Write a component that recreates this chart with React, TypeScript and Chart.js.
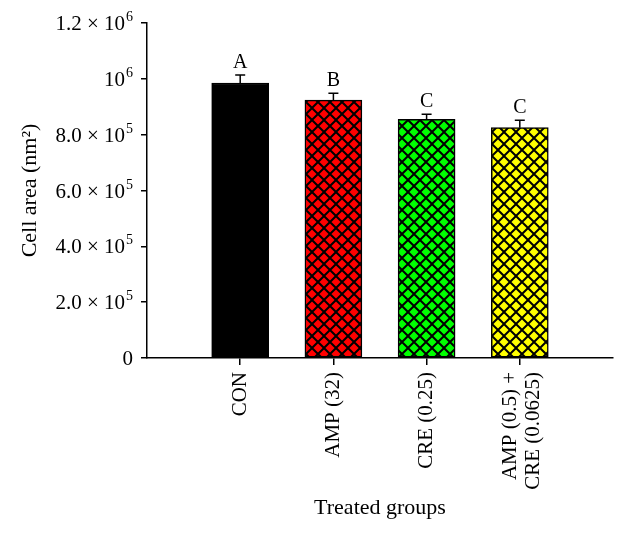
import React, { useEffect, useRef } from "react";
import { Chart, registerables } from "chart.js";

Chart.register(...registerables);

const categories: (string | string[])[] = ["CON", "AMP (32)", "CRE (0.25)", ["AMP (0.5) +", "CRE (0.0625)"]];
const cellArea = [985000, 924000, 855000, 825000];
const errors = [29000, 24000, 18000, 27000];
const letters = ["A", "B", "C", "C"];
const fillColors = ["#000000", "#ff0000", "#00ff00", "#ffff00"];
const hatched = [false, true, true, true];
const yTickLabels = ["0", "2.0 × 10⁵", "4.0 × 10⁵", "6.0 × 10⁵", "8.0 × 10⁵", "10⁶", "1.2 × 10⁶"];

const FONT = "'Liberation Serif', 'Times New Roman', serif";
const SUP: Record<string, string> = { "⁰": "0", "¹": "1", "²": "2", "³": "3", "⁴": "4", "⁵": "5", "⁶": "6", "⁷": "7", "⁸": "8", "⁹": "9" };

function makePattern(bg: string): CanvasPattern | string {
  const s = 12;
  const c = document.createElement("canvas");
  c.width = s;
  c.height = s;
  const g = c.getContext("2d");
  if (!g) return bg;
  g.fillStyle = bg;
  g.fillRect(0, 0, s, s);
  g.strokeStyle = "#000";
  g.lineWidth = 2;
  for (const k of [-s, 0, s]) {
    g.beginPath();
    g.moveTo(k, 0);
    g.lineTo(k + s, s);
    g.moveTo(k + s, 0);
    g.lineTo(k, s);
    g.stroke();
  }
  const p = g.createPattern(c, "repeat");
  return p || bg;
}

export default function App() {
  const ref = useRef<HTMLCanvasElement>(null);
  useEffect(() => {
    if (!ref.current) return;
    const labels = ["", ...categories, ""];
    const data = [null, ...cellArea, null];
    const bg = [
      "transparent",
      ...fillColors.map((c, i) => (hatched[i] ? makePattern(c) : c)),
      "transparent",
    ];

    const errPlugin = {
      id: "errbars",
      afterDatasetsDraw(chart: any) {
        const ctx = chart.ctx;
        const meta = chart.getDatasetMeta(0);
        const ys = chart.scales.y;
        ctx.save();
        ctx.strokeStyle = "#000";
        ctx.fillStyle = "#000";
        ctx.lineWidth = 1.5;
        cellArea.forEach((v, i) => {
          const el = meta.data[i + 1];
          if (!el) return;
          const x = el.x;
          const yb = ys.getPixelForValue(v);
          const yt = ys.getPixelForValue(v + errors[i]);
          ctx.beginPath();
          ctx.moveTo(x, yb);
          ctx.lineTo(x, yt);
          ctx.moveTo(x - 5, yt);
          ctx.lineTo(x + 5, yt);
          ctx.stroke();
          ctx.font = `20px ${FONT}`;
          ctx.textAlign = "center";
          ctx.textBaseline = "alphabetic";
          ctx.fillText(letters[i], x, yt - 7);
        });
        ctx.restore();
      },
      afterDraw(chart: any) {
        const ctx = chart.ctx;
        const ys = chart.scales.y;
        const xs = chart.scales.x;
        const right = ys.right - 6 - 8;
        ctx.save();
        ctx.fillStyle = "#000";
        ctx.textBaseline = "alphabetic";
        ctx.textAlign = "left";
        ys.ticks.forEach((t: any, i: number) => {
          const lbl = yTickLabels[i];
          if (lbl === undefined) return;
          const y = ys.getPixelForValue(t.value) + 7;
          const last = lbl.charAt(lbl.length - 1);
          let base = lbl;
          let sup = "";
          if (SUP[last] !== undefined) {
            base = lbl.slice(0, -1);
            sup = SUP[last];
          }
          ctx.font = `21px ${FONT}`;
          const wb = ctx.measureText(base).width;
          ctx.font = `14px ${FONT}`;
          const ws = sup ? ctx.measureText(sup).width + 1 : 0;
          const x0 = right - wb - ws;
          ctx.font = `21px ${FONT}`;
          ctx.fillText(base, x0, y);
          if (sup) {
            ctx.font = `14px ${FONT}`;
            ctx.fillText(sup, x0 + wb + 1, y - 9);
          }
        });
        // x category labels, rotated
        ctx.font = `21px ${FONT}`;
        ctx.textAlign = "right";
        ctx.textBaseline = "middle";
        const lineH = 23;
        categories.forEach((c, i) => {
          const lines = Array.isArray(c) ? c : [c];
          const x = xs.getPixelForValue(i + 1);
          const yTop = xs.top + 7 + 7;
          ctx.save();
          ctx.translate(x, yTop);
          ctx.rotate(-Math.PI / 2);
          lines.forEach((ln, j) => {
            const dy = (j - (lines.length - 1) / 2) * lineH + (lines.length > 1 ? 2 : 0);
            ctx.fillText(ln, 0, dy);
          });
          ctx.restore();
        });
        ctx.restore();
      },
    };

    const chart = new Chart(ref.current, {
      type: "bar",
      data: {
        labels,
        datasets: [
          {
            data,
            backgroundColor: bg as any,
            borderColor: "#000",
            borderWidth: 1.5,
            borderSkipped: false,
            barThickness: 57,
          },
        ],
      },
      options: {
        responsive: true,
        maintainAspectRatio: false,
        animation: false,
        layout: { padding: { left: 0, right: 14, top: 23, bottom: 0 } },
        plugins: { legend: { display: false }, tooltip: { enabled: false } },
        scales: {
          x: {
            type: "category",
            offset: false,
            grid: {
              display: true,
              offset: false,
              drawOnChartArea: false,
              drawTicks: true,
              tickLength: 7,
              lineWidth: 1.5,
              color: (c: any) => (c.index === 0 || c.index === labels.length - 1 ? "transparent" : "#000"),
            },
            border: { display: true, color: "#000", width: 1.5 },
            ticks: {
              autoSkip: false,
              minRotation: 90,
              maxRotation: 90,
              padding: 6,
              color: "transparent",
              font: { family: FONT, size: 21 },
            },
            title: {
              display: true,
              text: "Treated groups",
              color: "#000",
              font: { family: FONT, size: 22 },
              padding: { top: 0, bottom: 13 },
            },
            afterFit: (s: any) => {
              s.height = 176;
              s.paddingLeft = 0;
              s.paddingRight = 0;
            },
          },
          y: {
            min: 0,
            max: 1200000,
            grid: {
              display: true,
              drawOnChartArea: false,
              drawTicks: true,
              tickLength: 6,
              lineWidth: 1.5,
              color: "#000",
            },
            border: { display: true, color: "#000", width: 1.5 },
            ticks: {
              stepSize: 200000,
              padding: 8,
              color: "transparent",
              font: { family: FONT, size: 21 },
              callback: (_v: any, i: number) => yTickLabels[i],
            },
            title: {
              display: true,
              text: "Cell area (nm²)",
              color: "#000",
              font: { family: FONT, size: 22 },
              padding: { top: 17, bottom: 0 },
            },
            afterFit: (s: any) => {
              s.width = 147;
            },
          },
        },
      },
      plugins: [errPlugin],
    });
    return () => chart.destroy();
  }, []);

  return (
    <div style={{ position: "fixed", left: 0, top: 0, width: 627, height: 534, background: "#fff" }}>
      <canvas ref={ref} />
    </div>
  );
}
